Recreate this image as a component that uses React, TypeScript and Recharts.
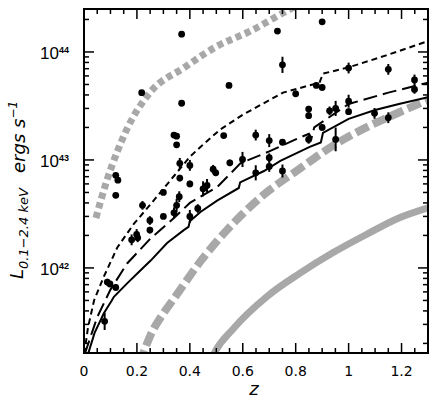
import React from 'react';
import { ComposedChart, Line, Scatter, XAxis, YAxis, ErrorBar } from 'recharts';

// ---------------- data ----------------
// clusters: redshift, luminosity (erg/s), error half-width in dex (0 = no bar)
const clusterZ = [
  0.369, 0.218, 0.369, 0.34, 0.35, 0.35, 0.12, 0.128, 0.12, 0.731,
  0.9, 0.548, 0.528, 0.878, 0.9, 0.8, 0.75, 1.0, 1.15, 1.249,
  1.249, 0.362, 0.4, 0.362, 0.4, 0.488, 0.498, 0.3, 0.649, 0.7,
  0.75, 0.849, 0.849, 0.849, 0.7, 0.7, 0.599, 0.551, 0.649, 0.75,
  0.45, 0.465, 0.928, 0.951, 1.0, 1.0, 1.098, 1.15, 0.9, 0.951,
  0.078, 0.088, 0.098, 0.12, 0.18, 0.199, 0.203, 0.249, 0.249, 0.221,
  0.3, 0.34, 0.35, 0.36, 0.4, 0.43,
];
const clusterL = [
  1.46e44, 4.2e43, 3.35e43, 1.7e43, 1.66e43, 1.38e43, 7.2e42, 6.5e42, 4.7e42, 1.56e44,
  1.9e44, 4.9e43, 1.68e43, 4.9e43, 4.7e43, 4.1e43, 7.6e43, 7.1e43, 6.9e43, 5.5e43,
  4.5e43, 9.3e42, 8.9e42, 6.8e42, 6.0e42, 8.2e42, 7.6e42, 5.0e42, 1.7e43, 1.51e43,
  1.46e43, 2.96e43, 2.57e43, 1.55e43, 1.05e43, 8.7e42, 1.01e43, 9.4e42, 7.6e42, 7.9e42,
  5.4e42, 5.8e42, 2.85e43, 3.0e43, 3.5e43, 2.8e43, 2.7e43, 2.46e43, 2.0e43, 1.55e43,
  3.2e41, 7.4e41, 7.1e41, 6.6e41, 1.82e42, 2.04e42, 1.9e42, 2.75e42, 2.24e42, 3.8e42,
  3.0e42, 3.24e42, 3.8e42, 4.57e42, 3.0e42, 3.55e42,
];
const clusterErrDex = [
  0, 0, 0, 0, 0, 0, 0, 0, 0, 0,
  0, 0, 0, 0, 0.03, 0.03, 0.075, 0.05, 0.05, 0.05,
  0.04, 0.05, 0.05, 0.03, 0.03, 0.04, 0.03, 0, 0.05, 0.06,
  0.03, 0.03, 0.03, 0.04, 0.04, 0.05, 0.07, 0.03, 0.07, 0.06,
  0.07, 0.06, 0.04, 0.07, 0.06, 0.03, 0.05, 0.05, 0.03, 0.11,
  0.08, 0.03, 0.02, 0.03, 0.05, 0.05, 0.04, 0.04, 0.03, 0.04,
  0.02, 0.05, 0.06, 0.05, 0.06, 0.04,
];

// black solid curve
const solidZ = [0.012, 0.04, 0.075, 0.105, 0.113, 0.163, 0.21, 0.252, 0.314, 0.377, 0.395, 0.4, 0.44, 0.503, 0.585, 0.59, 0.68, 0.742, 0.853, 0.895, 0.903, 1.0, 1.1, 1.19, 1.3];
const solidL = [1.5e41, 2.5e41, 3.8e41, 5.0e41, 5.4e41, 7.2e41, 9.3e41, 1.17e42, 1.7e42, 2.24e42, 2.4e42, 2.7e42, 3.3e42, 4.2e42, 5.5e42, 6.2e42, 7.9e42, 9.8e42, 1.32e43, 1.45e43, 1.78e43, 2.4e43, 2.9e43, 3.3e43, 3.8e43];

// black long-dashed curve
const longZ = [0.003, 0.05, 0.1, 0.163, 0.25, 0.34, 0.4, 0.503, 0.591, 0.7, 0.8, 0.85, 0.86, 0.87, 1.0, 1.15, 1.3];
const longL = [1.6e41, 3.5e41, 6.3e41, 1.1e42, 1.86e42, 2.9e42, 4.0e42, 5.6e42, 9.3e42, 1.2e43, 1.55e43, 1.75e43, 1.6e43, 2.0e43, 3.3e43, 4.2e43, 5.2e43];

// black short-dashed curve
const shortZ = [0.001, 0.015, 0.038, 0.075, 0.126, 0.189, 0.252, 0.34, 0.4, 0.44, 0.513, 0.601, 0.752, 0.89, 0.903, 1.0, 1.142, 1.3];
const shortL = [1.6e41, 2.8e41, 5.0e41, 8.3e41, 1.55e42, 2.57e42, 3.9e42, 7.1e42, 1.07e43, 1.32e43, 1.9e43, 2.63e43, 4.2e43, 5.2e43, 6.3e43, 7.2e43, 9.3e43, 1.26e44];

// grey dotted curve
const dotZ = [0.045, 0.085, 0.126, 0.163, 0.249, 0.38, 0.5, 0.626, 0.78, 0.82];
const dotL = [2.9e42, 6.3e42, 1.2e43, 1.95e43, 4.2e43, 7.2e43, 1.12e44, 1.55e44, 2.5e44, 2.8e44];

// grey dashed curve
const gdashZ = [0.21, 0.252, 0.3, 0.34, 0.44, 0.54, 0.667, 0.815, 0.94, 1.067, 1.19, 1.3];
const gdashL = [1.3e41, 2.4e41, 3.8e41, 5.2e41, 1.15e42, 2.24e42, 4.5e42, 8.3e42, 1.35e43, 2.0e43, 2.75e43, 3.6e43];

// grey solid curve
const gsolidZ = [0.475, 0.49, 0.565, 0.69, 0.815, 0.94, 1.067, 1.19, 1.3];
const gsolidL = [1.3e41, 1.58e41, 2.75e41, 5.4e41, 8.9e41, 1.38e42, 2.04e42, 2.9e42, 3.6e42];

// axes
const xMajorTicks = [0, 0.2, 0.4, 0.6, 0.8, 1.0, 1.2];
const xMajorLabels = ['0', '0.2', '0.4', '0.6', '0.8', '1', '1.2'];
const xMinorTicks = [0.05, 0.1, 0.15, 0.25, 0.3, 0.35, 0.45, 0.5, 0.55, 0.65, 0.7, 0.75, 0.85, 0.9, 0.95, 1.05, 1.1, 1.15, 1.25];
const yMajorTicks = [1e42, 1e43, 1e44];
const yMajorExp = ['42', '43', '44'];
const yMinorTicks = [
  2e41, 3e41, 4e41, 5e41, 6e41, 7e41, 8e41, 9e41,
  2e42, 3e42, 4e42, 5e42, 6e42, 7e42, 8e42, 9e42,
  2e43, 3e43, 4e43, 5e43, 6e43, 7e43, 8e43, 9e43,
  2e44,
];
const xDomain = [0, 1.3];
const yDomain = [1.63e41, 2.5e44];

// ---------------- layout ----------------
const W = 436;
const H = 406;
const PL = 84, PR = 428, PT = 9, PB = 353;
const AX = 1; // nominal axis thickness reserved by recharts
const FONT = '"Liberation Sans", Arial, Helvetica, sans-serif';
const DJ = '"DejaVu Sans", sans-serif';
const GREY = '#a8a8a8';
const TICK = '#000';

const toSeries = (zs: number[], ls: number[]) => zs.map((z, i) => ({ z, L: ls[i] }));

const clusters = clusterZ.map((z, i) => {
  const L = clusterL[i];
  const d = clusterErrDex[i];
  return { z, L, err: [L - L / Math.pow(10, d), L * Math.pow(10, d) - L] };
});

const xTicks = [...xMajorTicks, ...xMinorTicks].sort((a, b) => a - b);
const yTicks = [...yMajorTicks, ...yMinorTicks].sort((a, b) => a - b);

const majorXIndex = (v: number) => xMajorTicks.findIndex((m) => Math.abs(m - v) < 1e-9);
const majorYIndex = (v: number) => yMajorTicks.findIndex((m) => Math.abs(m - v) / m < 1e-9);

const XTick = (side: 'bottom' | 'top') => (props: any) => {
  const { x, payload } = props;
  const idx = majorXIndex(payload.value);
  const len = idx < 0 ? 5 : 10;
  const y0 = side === 'bottom' ? PB : PT;
  const y1 = side === 'bottom' ? PB - len : PT + len;
  return (
    <g>
      <rect x={x - 0.75} y={Math.min(y0, y1)} width={1.5} height={len} fill={TICK} />
      {side === 'bottom' && idx >= 0 && (
        <text x={x} y={376} textAnchor="middle" fontSize={14} fontFamily={DJ} fill="#000">
          {xMajorLabels[idx]}
        </text>
      )}
    </g>
  );
};

const YTick = (side: 'left' | 'right') => (props: any) => {
  const { y, payload } = props;
  const mi = majorYIndex(payload.value);
  const len = mi < 0 ? 5 : 10;
  const x0 = side === 'left' ? PL : PR;
  const x1 = side === 'left' ? PL + len : PR - len;
  return (
    <g>
      <rect x={Math.min(x0, x1)} y={y - 0.75} width={len} height={1.5} fill={TICK} />
      {side === 'left' && mi >= 0 && (
        <text x={69} y={y + 7} textAnchor="end" fontFamily={FONT} fill="#000">
          <tspan fontSize={17}>10</tspan>
          <tspan fontSize={9} fontWeight="bold" dy={-6}>{yMajorExp[mi]}</tspan>
        </text>
      )}
    </g>
  );
};

const Dot = (props: any) => {
  const { cx, cy } = props;
  if (cx == null || cy == null) return null;
  return <circle cx={cx} cy={cy} r={3.4} fill="#000" />;
};

export default function App() {
  return (
    <div style={{ position: 'absolute', left: 0, top: 0, width: W, height: H, background: '#fff' }}>
      <ComposedChart
        width={W}
        height={H}
        margin={{ top: PT - AX, right: W - PR - AX, bottom: H - PB - AX, left: PL - AX }}
      >
        <XAxis xAxisId="b" type="number" dataKey="z" domain={xDomain} allowDataOverflow ticks={xTicks}
          interval={0} height={AX} orientation="bottom" tickLine={false} axisLine={false} tick={XTick('bottom')} />
        <XAxis xAxisId="t" type="number" dataKey="z" domain={xDomain} allowDataOverflow ticks={xTicks}
          interval={0} height={AX} orientation="top" tickLine={false} axisLine={false} tick={XTick('top')} />
        <YAxis yAxisId="l" type="number" dataKey="L" scale="log" domain={yDomain} allowDataOverflow ticks={yTicks}
          interval={0} width={AX} orientation="left" tickLine={false} axisLine={false} tick={YTick('left')} />
        <YAxis yAxisId="r" type="number" dataKey="L" scale="log" domain={yDomain} allowDataOverflow ticks={yTicks}
          interval={0} width={AX} orientation="right" tickLine={false} axisLine={false} tick={YTick('right')} />

        <Line xAxisId="b" yAxisId="l" data={toSeries(dotZ, dotL)} dataKey="L" type="monotone"
          stroke={GREY} strokeWidth={7} strokeDasharray="6 4" dot={false} isAnimationActive={false} />
        <Line xAxisId="b" yAxisId="l" data={toSeries(gdashZ, gdashL)} dataKey="L" type="monotone"
          stroke={GREY} strokeWidth={8} strokeDasharray="14 5" dot={false} isAnimationActive={false} />
        <Line xAxisId="b" yAxisId="l" data={toSeries(gsolidZ, gsolidL)} dataKey="L" type="monotone"
          stroke={GREY} strokeWidth={7} dot={false} isAnimationActive={false} />

        <Line xAxisId="b" yAxisId="l" data={toSeries(shortZ, shortL)} dataKey="L" type="linear"
          stroke="#000" strokeWidth={2} strokeDasharray="6 4" dot={false} isAnimationActive={false} />
        <Line xAxisId="b" yAxisId="l" data={toSeries(longZ, longL)} dataKey="L" type="linear"
          stroke="#000" strokeWidth={2} strokeDasharray="14 6" dot={false} isAnimationActive={false} />
        <Line xAxisId="b" yAxisId="l" data={toSeries(solidZ, solidL)} dataKey="L" type="linear"
          stroke="#000" strokeWidth={2} dot={false} isAnimationActive={false} />

        <Scatter xAxisId="b" yAxisId="l" data={clusters} dataKey="L" shape={Dot} isAnimationActive={false}>
          <ErrorBar dataKey="err" direction="y" width={0} stroke="#000" strokeWidth={2} />
        </Scatter>
      </ComposedChart>

      <svg width={W} height={H} style={{ position: 'absolute', left: 0, top: 0, pointerEvents: 'none' }}>
        <rect x={PL} y={PT} width={PR - PL} height={PB - PT} fill="none" stroke="#000" strokeWidth={2} />
        <text transform="rotate(-90)" x={-279} y={23} fontFamily={DJ} fontStyle="italic" fill="#000">
          <tspan fontSize={18}>L</tspan>
          <tspan fontSize={13} dy={5}>0.1−2.4 keV</tspan>
        </text>
        <text transform="rotate(-90)" x={-173} y={25} fontFamily={DJ} fontStyle="italic" fill="#000">
          <tspan fontSize={18}>ergs s</tspan>
          <tspan fontSize={12} dy={-8}>−1</tspan>
        </text>
        <text x={254} y={395} textAnchor="middle" fontFamily={DJ} fontStyle="italic" fontSize={18} fill="#000">
          z
        </text>
      </svg>
    </div>
  );
}
